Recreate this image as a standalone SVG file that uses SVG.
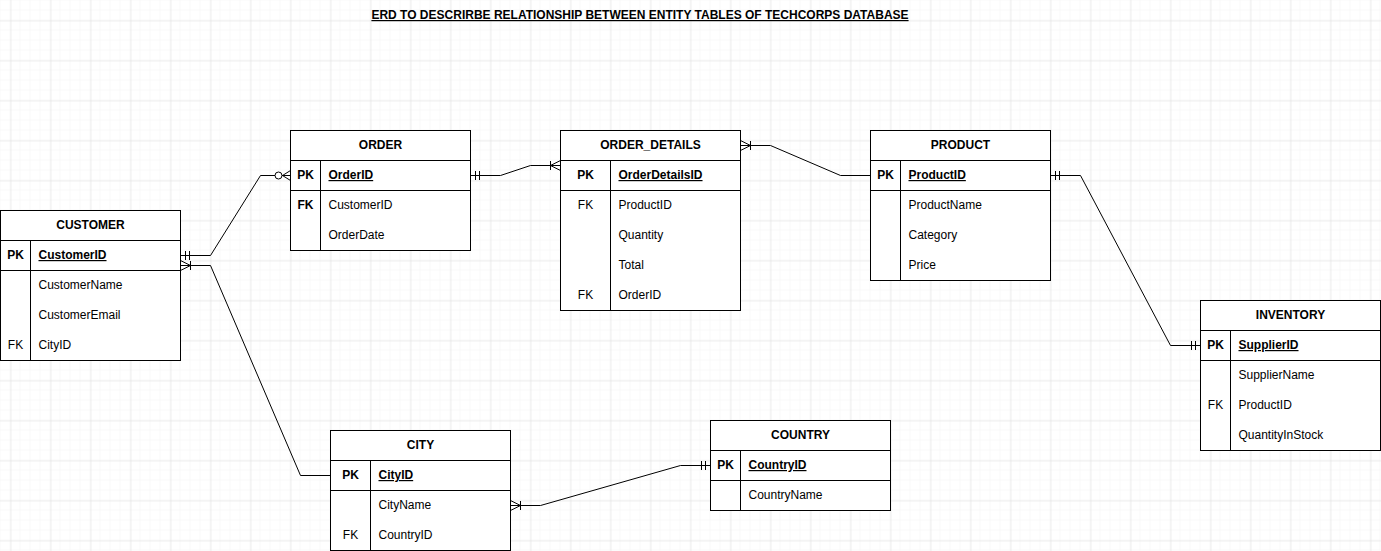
<svg xmlns="http://www.w3.org/2000/svg" width="1381" height="551" viewBox="0 0 1381 551">
<style>
text{font-family:"Liberation Sans",Arial,sans-serif;font-size:12px;fill:#000}
.h{font-weight:bold;text-anchor:middle}
.k{font-weight:bold;text-anchor:middle}
.kn{text-anchor:middle}
.pk{font-weight:bold;text-decoration:underline}
.box{fill:#fff;stroke:#000;stroke-width:1}
.ln{stroke:#000;stroke-width:1;fill:none}
.con{stroke:#000;stroke-width:1;fill:none}
.title{font-weight:bold;text-decoration:underline;text-anchor:middle}
</style>
<defs>
<pattern id="minor" width="10" height="10" patternUnits="userSpaceOnUse" x="0" y="0">
<path d="M10 0V10M0 10H10" fill="none" stroke="#f3f3f3" stroke-width="1"/>
</pattern>
<pattern id="major" width="40" height="40" patternUnits="userSpaceOnUse" x="10.5" y="20.5">
<rect width="40" height="40" fill="url(#minor)"/>
<path d="M0 0V40M0 0H40" fill="none" stroke="#dedede" stroke-width="1"/>
</pattern>
<marker id="mandOne" viewBox="-20 -10 22 20" refX="0" refY="0" markerWidth="22" markerHeight="20" markerUnits="userSpaceOnUse" orient="auto-start-reverse" overflow="visible">
<path d="M-5 -4.5V4.5M-9 -4.5V4.5" stroke="#000" stroke-width="1" fill="none"/>
</marker>
<marker id="oneMany" viewBox="-20 -10 22 20" refX="0" refY="0" markerWidth="22" markerHeight="20" markerUnits="userSpaceOnUse" orient="auto-start-reverse" overflow="visible">
<path d="M-10 0L0 -5M-10 0L0 5M-10 -4.5V4.5" stroke="#000" stroke-width="1" fill="none"/>
</marker>
<marker id="zeroMany" viewBox="-20 -10 22 20" refX="0" refY="0" markerWidth="22" markerHeight="20" markerUnits="userSpaceOnUse" orient="auto-start-reverse" overflow="visible">
<path d="M-8 0L0 -5M-8 0L0 5" stroke="#000" stroke-width="1" fill="none"/>
<circle cx="-12" cy="0" r="3.5" fill="#fff" stroke="#000" stroke-width="1"/>
</marker>
</defs>
<rect width="1381" height="551" fill="#fff"/>
<rect width="1381" height="551" fill="url(#major)"/>

<text class="title" x="640" y="19">ERD TO DESCRIRBE RELATIONSHIP BETWEEN ENTITY TABLES OF TECHCORPS DATABASE</text>

<g id="connectors">
<path class="con" d="M180.5 255.5H210.5L260.5 175.5H290.5" marker-start="url(#mandOne)" marker-end="url(#zeroMany)"/>
<path class="con" d="M180.5 265.5H210.5L300.5 475.5H330.5" marker-start="url(#oneMany)"/>
<path class="con" d="M470.5 175.5H500.5L530.5 165.5H560.5" marker-start="url(#mandOne)" marker-end="url(#oneMany)"/>
<path class="con" d="M740.5 145.5H770.5L840.5 175.5H870.5" marker-start="url(#oneMany)"/>
<path class="con" d="M1050.5 175.5H1080.5L1170.5 345.5H1200.5" marker-start="url(#mandOne)" marker-end="url(#mandOne)"/>
<path class="con" d="M510.5 505.5H540.5L680.5 465.5H710.5" marker-start="url(#oneMany)" marker-end="url(#mandOne)"/>
</g>

<g id="customer">
<rect class="box" x="0.5" y="210.5" width="180" height="150"/>
<path class="ln" d="M0.5 240.5H180.5M0.5 270.5H180.5M30.5 240.5V360.5"/>
<text class="h" x="90.5" y="229">CUSTOMER</text>
<text class="k" x="15.5" y="259">PK</text>
<text class="pk" x="38.5" y="259">CustomerID</text>
<text x="38.5" y="289">CustomerName</text>
<text x="38.5" y="319">CustomerEmail</text>
<text class="kn" x="15.5" y="349">FK</text>
<text x="38.5" y="349">CityID</text>
</g>

<g id="order">
<rect class="box" x="290.5" y="130.5" width="180" height="120"/>
<path class="ln" d="M290.5 160.5H470.5M290.5 190.5H470.5M320.5 160.5V250.5"/>
<text class="h" x="380.5" y="149">ORDER</text>
<text class="k" x="305.5" y="179">PK</text>
<text class="pk" x="328.5" y="179">OrderID</text>
<text class="k" x="305.5" y="209">FK</text>
<text x="328.5" y="209">CustomerID</text>
<text x="328.5" y="239">OrderDate</text>
</g>

<g id="order_details">
<rect class="box" x="560.5" y="130.5" width="180" height="180"/>
<path class="ln" d="M560.5 160.5H740.5M560.5 190.5H740.5M610.5 160.5V310.5"/>
<text class="h" x="650.5" y="149">ORDER_DETAILS</text>
<text class="k" x="585.5" y="179">PK</text>
<text class="pk" x="618.5" y="179">OrderDetailsID</text>
<text class="kn" x="585.5" y="209">FK</text>
<text x="618.5" y="209">ProductID</text>
<text x="618.5" y="239">Quantity</text>
<text x="618.5" y="269">Total</text>
<text class="kn" x="585.5" y="299">FK</text>
<text x="618.5" y="299">OrderID</text>
</g>

<g id="product">
<rect class="box" x="870.5" y="130.5" width="180" height="150"/>
<path class="ln" d="M870.5 160.5H1050.5M870.5 190.5H1050.5M900.5 160.5V280.5"/>
<text class="h" x="960.5" y="149">PRODUCT</text>
<text class="k" x="885.5" y="179">PK</text>
<text class="pk" x="908.5" y="179">ProductID</text>
<text x="908.5" y="209">ProductName</text>
<text x="908.5" y="239">Category</text>
<text x="908.5" y="269">Price</text>
</g>

<g id="inventory">
<rect class="box" x="1200.5" y="300.5" width="180" height="150"/>
<path class="ln" d="M1200.5 330.5H1380.5M1200.5 360.5H1380.5M1230.5 330.5V450.5"/>
<text class="h" x="1290.5" y="319">INVENTORY</text>
<text class="k" x="1215.5" y="349">PK</text>
<text class="pk" x="1238.5" y="349">SupplierID</text>
<text x="1238.5" y="379">SupplierName</text>
<text class="kn" x="1215.5" y="409">FK</text>
<text x="1238.5" y="409">ProductID</text>
<text x="1238.5" y="439">QuantityInStock</text>
</g>

<g id="city">
<rect class="box" x="330.5" y="430.5" width="180" height="120"/>
<path class="ln" d="M330.5 460.5H510.5M330.5 490.5H510.5M370.5 460.5V550.5"/>
<text class="h" x="420.5" y="449">CITY</text>
<text class="k" x="350.5" y="479">PK</text>
<text class="pk" x="378.5" y="479">CityID</text>
<text x="378.5" y="509">CityName</text>
<text class="kn" x="350.5" y="539">FK</text>
<text x="378.5" y="539">CountryID</text>
</g>

<g id="country">
<rect class="box" x="710.5" y="420.5" width="180" height="90"/>
<path class="ln" d="M710.5 450.5H890.5M710.5 480.5H890.5M740.5 450.5V510.5"/>
<text class="h" x="800.5" y="439">COUNTRY</text>
<text class="k" x="725.5" y="469">PK</text>
<text class="pk" x="748.5" y="469">CountryID</text>
<text x="748.5" y="499">CountryName</text>
</g>
</svg>
